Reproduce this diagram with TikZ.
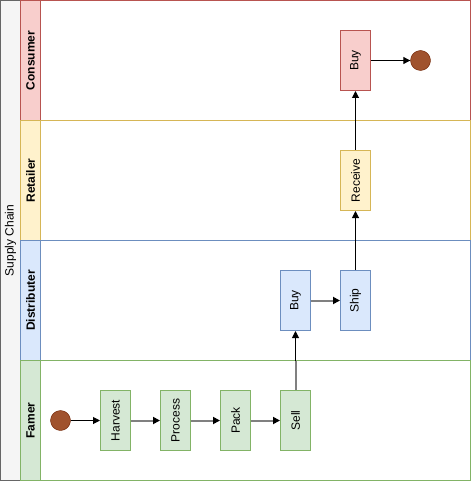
\documentclass[tikz,border=0pt]{standalone}
\usepackage{fontspec}
\setmainfont{Liberation Sans}
\usetikzlibrary{arrows.meta}
\definecolor{poolfill}{HTML}{F5F5F5}
\definecolor{poolline}{HTML}{666666}
\definecolor{redline}{HTML}{B85450}
\definecolor{redfill}{HTML}{F8CECC}
\definecolor{yelline}{HTML}{D6B656}
\definecolor{yelfill}{HTML}{FFF2CC}
\definecolor{blueline}{HTML}{6C8EBF}
\definecolor{bluefill}{HTML}{DAE8FC}
\definecolor{greenline}{HTML}{82B366}
\definecolor{greenfill}{HTML}{D5E8D4}
\definecolor{eventfill}{HTML}{A0522D}
\definecolor{eventline}{HTML}{6D1F00}
\definecolor{fadeline}{HTML}{808080}
\begin{document}
\begin{tikzpicture}[x=1pt,y=-1pt,
  font=\fontsize{12}{14}\selectfont,
  task/.style={draw=#1, line width=1pt, minimum width=60pt, minimum height=30pt,
    inner sep=0pt, rotate=90, anchor=center},
  event/.style={circle, draw=eventline, fill=eventfill, minimum size=20pt, inner sep=0pt},
  lanelabel/.style={rotate=90, font=\fontsize{12}{14}\selectfont\bfseries},
  flow/.style={-{Triangle[length=7pt,width=7pt]}, line width=1pt, black},
  fadeflow/.style={-{Triangle[length=7pt,width=7pt,color=black,fill=black]}, line width=2pt, fadeline}
]
\useasboundingbox (-0.5,-0.5) rectangle (470.5,480.5);

% pool strip
\path[fill=poolfill, draw=poolline, line width=1pt] (0,0) rectangle (20,480);
\node[rotate=90] (pool) at (10,240) {Supply Chain};

% lanes: body then header
\draw[redline, line width=1pt] (20,0) rectangle (470,120);
\path[fill=redfill, draw=redline, line width=1pt] (20,0) rectangle (40,120);
\node[lanelabel] (l1) at (30,60) {Consumer};

\draw[yelline, line width=1pt] (20,120) rectangle (470,240);
\path[fill=yelfill, draw=yelline, line width=1pt] (20,120) rectangle (40,240);
\node[lanelabel] (l2) at (30,180) {Retailer};

\draw[blueline, line width=1pt] (20,240) rectangle (470,360);
\path[fill=bluefill, draw=blueline, line width=1pt] (20,240) rectangle (40,360);
\node[lanelabel] (l3) at (30,300) {Distributer};

\draw[greenline, line width=1pt] (20,360) rectangle (470,480);
\path[fill=greenfill, draw=greenline, line width=1pt] (20,360) rectangle (40,480);
\node[lanelabel] (l4) at (30,420) {Famer};

% tasks and events
\node[event] (start) at (60,420) {};
\node[task=greenline, fill=greenfill] (harvest) at (115,420) {Harvest};
\node[task=greenline, fill=greenfill] (process) at (175,420) {Process};
\node[task=greenline, fill=greenfill] (pack) at (235,420) {Pack};
\node[task=greenline, fill=greenfill] (sell) at (295,420) {Sell};
\node[task=blueline, fill=bluefill] (dbuy) at (295,300) {Buy};
\node[task=blueline, fill=bluefill] (ship) at (355,300) {Ship};
\node[task=yelline, fill=yelfill] (receive) at (355,180) {Receive};
\node[task=redline, fill=redfill] (cbuy) at (355,60) {Buy};
\node[event] (end) at (420,60) {};
\coordinate (cross) at (295,360);

% flows
\draw[flow] (start) -- (harvest);
\draw[fadeflow] (harvest) -- (process);
\draw[fadeflow] (process) -- (pack);
\draw[fadeflow] (pack) -- (sell);
\draw[line width=2pt, fadeline] (sell.east) -- (cross);
\draw[flow] (cross) -- (dbuy);
\draw[fadeflow] (dbuy) -- (ship);
\draw[flow] (ship) -- (receive);
\draw[flow] (receive) -- (cbuy);
\draw[flow] (cbuy) -- (end);
\end{tikzpicture}
\end{document}
